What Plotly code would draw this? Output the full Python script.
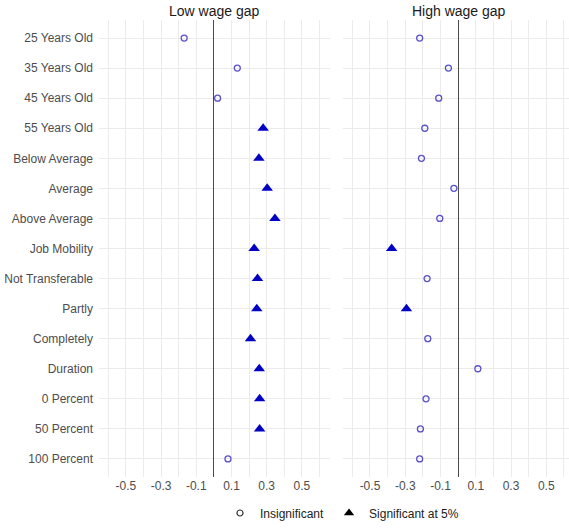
import numpy as np
import plotly.graph_objects as go

categories = ["25 Years Old", "35 Years Old", "45 Years Old", "55 Years Old",
              "Below Average", "Average", "Above Average", "Job Mobility",
              "Not Transferable", "Partly", "Completely", "Duration",
              "0 Percent", "50 Percent", "100 Percent"]

low_gap = [-0.169, 0.133, 0.021, 0.280, 0.256, 0.303, 0.347, 0.229,
           0.248, 0.244, 0.208, 0.258, 0.260, 0.260, 0.080]
low_sig = [0, 0, 0, 1, 1, 1, 1, 1, 1, 1, 1, 1, 1, 1, 0]

high_gap = [-0.218, -0.055, -0.110, -0.189, -0.208, -0.024, -0.104, -0.377,
            -0.176, -0.293, -0.172, 0.112, -0.182, -0.214, -0.218]
high_sig = [0, 0, 0, 0, 0, 0, 0, 1, 0, 1, 0, 0, 0, 0, 0]

panel_titles = ["Low wage gap", "High wage gap"]
legend_names = ["Insignificant", "Significant at 5%"]
tick_vals = [-0.5, -0.3, -0.1, 0.1, 0.3, 0.5]
tick_text = ["-0.5", "-0.3", "-0.1", "0.1", "0.3", "0.5"]

W, H = 569, 530
FONT = "Liberation Sans, Arial, sans-serif"
CIRCLE_COL = "#5a52cc"
TRI_COL = "#0000c4"

fig = go.Figure()
cats = np.array(categories)

for i, (vals, sig) in enumerate([(low_gap, low_sig), (high_gap, high_sig)]):
    v = np.array(vals)
    s = np.array(sig).astype(bool)
    xa = "x" if i == 0 else "x2"
    fig.add_trace(go.Scatter(
        x=v[~s], y=cats[~s], mode="markers", xaxis=xa, yaxis="y",
        marker=dict(symbol="circle-open", size=6, color=CIRCLE_COL,
                    line=dict(width=1.3, color=CIRCLE_COL)),
        showlegend=False, cliponaxis=False))
    fig.add_trace(go.Scatter(
        x=v[s], y=cats[s], mode="markers", xaxis=xa, yaxis="y",
        marker=dict(symbol="triangle-up", size=10, color=TRI_COL,
                    line=dict(width=0)),
        showlegend=False, cliponaxis=False))

# legend-only entries (black shapes like ggplot legend)
fig.add_trace(go.Scatter(x=[None], y=[None], mode="markers", name=legend_names[0],
                         marker=dict(symbol="circle-open", size=6, color="#333333",
                                     line=dict(width=1.2, color="#333333"))))
fig.add_trace(go.Scatter(x=[None], y=[None], mode="markers", name=legend_names[1],
                         marker=dict(symbol="triangle-up", size=9, color="#000000")))

left_dom = [99 / W, 330 / W]
right_dom = [343 / W, 1.0]
y_dom = [1 - 477 / H, 1 - 20 / H]

xcommon = dict(
    tickmode="array", tickvals=tick_vals, ticktext=tick_text,
    showgrid=True, gridcolor="#ebebeb", gridwidth=1,
    minor=dict(tickmode="array", tickvals=[-0.6, -0.4, -0.2, 0.0, 0.2, 0.4, 0.6],
               showgrid=True, gridcolor="#ebebeb", gridwidth=1, ticks=""),
    zeroline=True, zerolinecolor="#4a4a4a", zerolinewidth=1.4,
    showline=False, ticks="", anchor="y",
    tickfont=dict(family=FONT, size=12, color="#4d4d4d"),
)

fig.update_layout(
    width=W, height=H,
    margin=dict(l=0, r=0, t=0, b=0),
    paper_bgcolor="white", plot_bgcolor="white",
    font=dict(family=FONT),
    xaxis=dict(domain=left_dom, range=[-0.653, 0.660], **xcommon),
    xaxis2=dict(domain=right_dom, range=[-0.653, 0.629], **xcommon),
    yaxis=dict(domain=y_dom, type="category", categoryarray=categories,
               categoryorder="array", range=[14.6, -0.6],
               showgrid=True, gridcolor="#ebebeb", gridwidth=1,
               zeroline=False, ticks="", ticklabelstandoff=5,
               tickfont=dict(family=FONT, size=12, color="#4d4d4d")),
    legend=dict(orientation="h", x=342 / W, xanchor="center",
                y=1 - 513 / H, yanchor="middle",
                font=dict(family=FONT, size=12, color="#222222"),
                itemwidth=30, traceorder="normal"),
    annotations=[
        dict(text=panel_titles[0], x=sum(left_dom) / 2, y=1 - 11 / H,
             xref="paper", yref="paper", showarrow=False,
             xanchor="center", yanchor="middle",
             font=dict(family=FONT, size=14, color="#1a1a1a")),
        dict(text=panel_titles[1], x=(343 + 574) / 2 / W, y=1 - 11 / H,
             xref="paper", yref="paper", showarrow=False,
             xanchor="center", yanchor="middle",
             font=dict(family=FONT, size=14, color="#1a1a1a")),
    ],
)

fig.write_html("out.html")
